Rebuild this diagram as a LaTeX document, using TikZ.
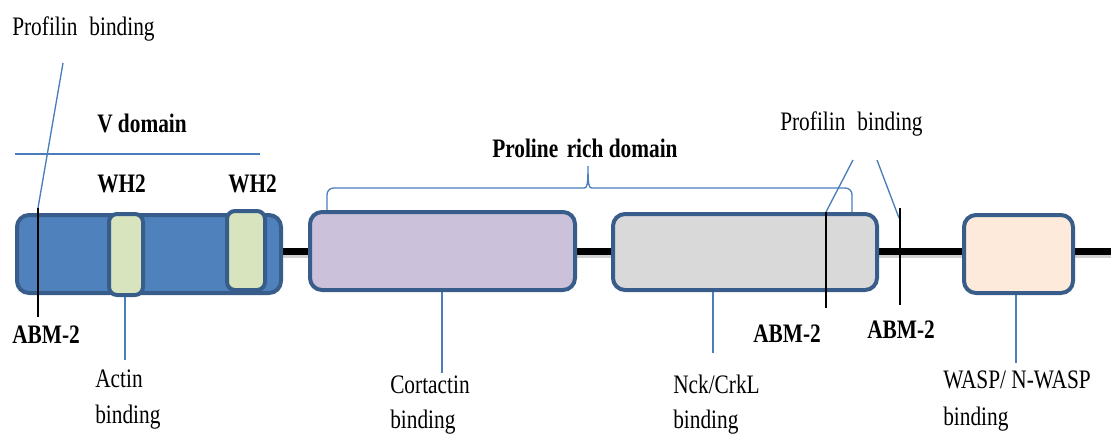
\documentclass[tikz,border=0pt]{standalone}
\usepackage{fontspec}
\setmainfont{Liberation Serif}[FakeStretch=0.8]
\usetikzlibrary{calc}
\definecolor{vblue}{HTML}{4F81BD}
\definecolor{edgeblue}{HTML}{385D8A}
\definecolor{lineblue}{HTML}{4A7EBB}
\definecolor{whgreen}{HTML}{D7E4BD}
\definecolor{lavender}{HTML}{CCC1DA}
\definecolor{lgray}{HTML}{D9D9D9}
\definecolor{peach}{HTML}{FDEADA}
\begin{document}
\begin{tikzpicture}[x=0.75pt,y=-0.75pt,
  lbl/.style={font=\fontsize{20pt}{24pt}\selectfont, inner sep=0pt, anchor=base west},
  blbl/.style={lbl, font=\fontsize{20pt}{24pt}\selectfont\bfseries},
  domainbox/.style={draw=edgeblue, line width=3pt, rounded corners=9pt, inner sep=0pt},
  whbox/.style={domainbox, fill=whgreen, rounded corners=6pt},
  bline/.style={draw=lineblue, line width=1pt},
  kline/.style={draw=black, line width=1pt},
]
\useasboundingbox (0,0) rectangle (1111,433);

% backbone
\coordinate (bbL) at (281,251);
\coordinate (bbR) at (1111,251);
\draw[black!18, line width=2.5pt] ($(bbL)+(0,5)$) -- ($(bbR)+(0,5)$);
\draw[black, line width=5.25pt] (bbL) -- (bbR);

% boxes
\node[domainbox, fill=vblue, minimum width=198pt, minimum height=58.5pt] (vbox) at (149,254) {};
\node[whbox, minimum width=25.5pt, minimum height=60.75pt] (wh1) at (126,254.5) {};
\node[whbox, minimum width=28.5pt, minimum height=59.25pt] (wh2) at (246,250.5) {};
\node[domainbox, fill=lavender, minimum width=198.75pt, minimum height=58.5pt] (cort) at (442.5,251) {};
\node[domainbox, fill=lgray, minimum width=198pt, minimum height=57pt] (nck) at (745,252) {};
\node[domainbox, fill=peach, minimum width=81.75pt, minimum height=58.5pt] (wasp) at (1018.5,254) {};

% top labels
\node[lbl] (prof1) at (12,35) {Profilin\hspace{0.45em}binding};
\node[blbl] (vdom) at (97,132) {V domain};
\node[blbl] (wh1t) at (97,192) {WH2};
\node[blbl] (wh2t) at (228,192) {WH2};
\node[blbl] (prol) at (492,157) {Proline\hspace{0.12em} rich domain};
\node[lbl] (prof2) at (780,130) {Profilin\hspace{0.45em}binding};

% V domain line
\coordinate (vl1) at (15,154);
\coordinate (vl2) at (260,154);
\draw[bline] (vl1) -- (vl2);

% left profilin / ABM-2
\coordinate (p1a) at (63,63);
\coordinate (p1b) at (38,208);
\coordinate (k1b) at (38,317);
\draw[bline] (p1a) -- (p1b);
\draw[kline] (p1b) -- (k1b);
\node[blbl] (abm1) at (12,343) {ABM-2};

% brace for proline rich domain
\coordinate (brL) at (327,210);
\coordinate (brP) at (588,166);
\coordinate (brR) at (852,212);
\draw[bline, rounded corners=5pt] (brL) -- (327,188) -- (584,188);
\draw[bline] (584,188) .. controls (587,188) and (588,186) .. (brP)
             .. controls (588,186) and (589,188) .. (592,188);
\draw[bline, rounded corners=5pt] (592,188) -- (852,188) -- (brR);

% right profilin lines / ABM-2
\coordinate (p2a) at (853,160);
\coordinate (p2b) at (826,212);
\coordinate (p3a) at (877,160);
\coordinate (p3b) at (899,218);
\draw[bline] (p2a) -- (p2b);
\draw[bline] (p3a) -- (p3b);
\coordinate (k2a) at (826,212);
\coordinate (k2b) at (826,308);
\coordinate (k3a) at (900,208);
\coordinate (k3b) at (900,305);
\draw[kline] (k2a) -- (k2b);
\draw[kline] (k3a) -- (k3b);
\node[blbl] (abm2) at (753,342) {ABM-2};
\node[blbl] (abm3) at (867,338) {ABM-2};

% bottom labels
\node[lbl] (actin) at (95,387) {Actin};
\node[lbl] (actinb) at (95,423) {binding};
\node[lbl] (cortt) at (390,393) {Cortactin};
\node[lbl] (cortb) at (390,428) {binding};
\node[lbl] (nckt) at (673,393) {Nck/CrkL};
\node[lbl] (nckb) at (673,428) {binding};
\node[lbl] (waspt) at (943,388) {WASP/ N-WASP};
\node[lbl] (waspb) at (943,425) {binding};

% connectors from boxes
\coordinate (ca) at (125,360);
\coordinate (cc) at (442,373);
\coordinate (cn) at (713,353);
\coordinate (cw) at (1016,363);
\draw[bline] (wh1.south -| ca) -- (ca);
\draw[bline] (cort.south -| cc) -- (cc);
\draw[bline] (nck.south -| cn) -- (cn);
\draw[bline] (wasp.south -| cw) -- (cw);
\end{tikzpicture}
\end{document}
